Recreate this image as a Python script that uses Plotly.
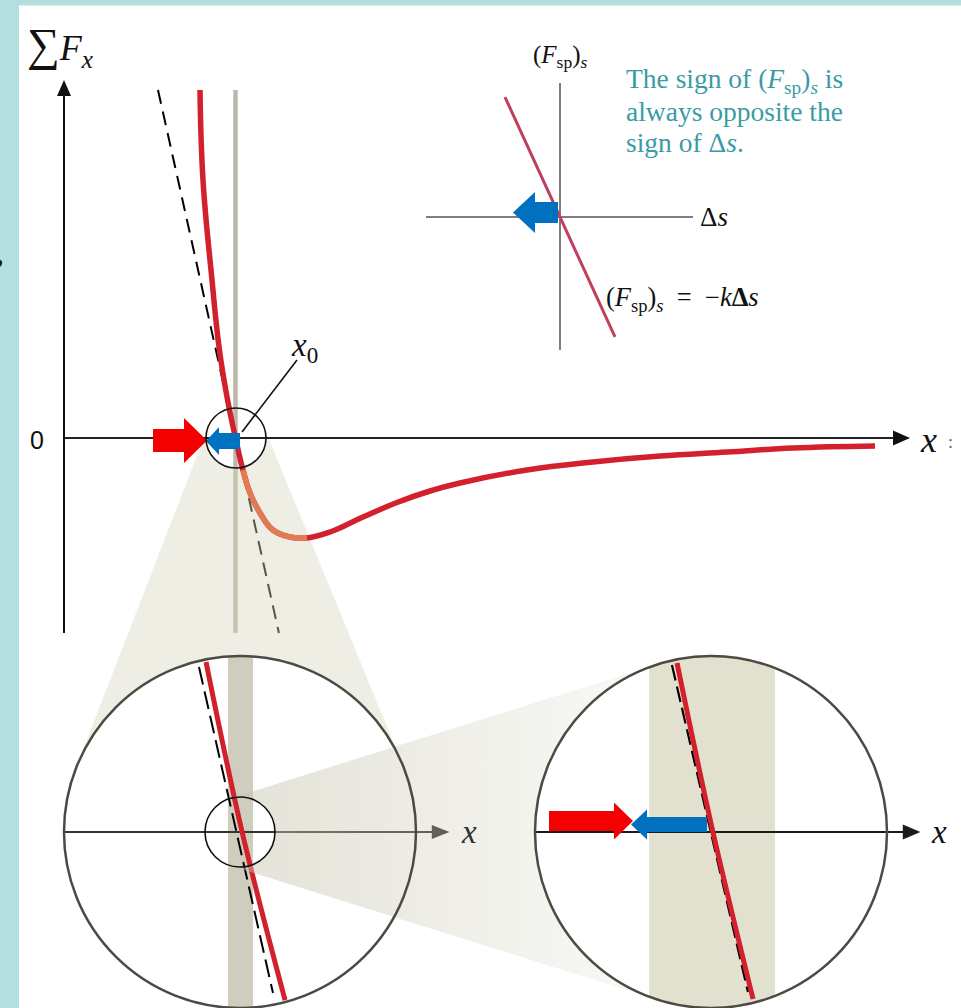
import numpy as np
import plotly.graph_objects as go

W, H = 961, 1008

# ---------------- data ----------------
# main graph: position x (arb. units) and net force F (arb. units)
curve_x = [1.586, 1.621, 1.726, 1.808, 1.901, 2.000, 2.087, 2.169, 2.286, 2.437, 2.636,
           2.834, 3.102, 3.487, 3.883, 4.268, 4.618, 5.399, 6.169, 6.950, 7.732, 8.501, 9.458]
curve_F = [3.48, 2.58, 1.58, 0.91, 0.41, 0.00, -0.32, -0.55, -0.75, -0.92, -0.99,
           -1.00, -0.94, -0.79, -0.645, -0.53, -0.45, -0.32, -0.24, -0.18, -0.14, -0.10, -0.08]
x_eq = 2.0                 # equilibrium position x0
tangent_k = 3.85           # slope of dashed tangent (linear approx.)
F_top, F_bottom = 3.48, -1.95
shaded_x_range = (2.08, 2.84)   # part of the curve under the zoom cone

# first zoom circle (local units, radius = 1)
zoomL_red_u = [-0.193, 0.012, 0.256]
zoomL_red_v = [0.966, 0.0, -0.955]
zoomL_tan_u = [-0.233, 0.1875]
zoomL_tan_v = [0.9375, -0.915]
zoomL_band = (-0.068, 0.074)

# second zoom circle
zoomR_red_u = [-0.193, 0.011, 0.239]
zoomR_red_v = [0.960, 0.0, -0.949]
zoomR_tan_u = [-0.222, 0.210]
zoomR_tan_v = [0.949, -0.909]
zoomR_band = (-0.352, 0.364)

# inset: (F_sp)_s = -k Δs
inset_ds = [-0.55, 0.55]
inset_k = 2.18

# ---------------- layout geometry (pixels) ----------------
MAIN_ORIGIN = (64, 438)          # pixel of x=0, F=0
MAIN_SX, MAIN_SY = 85.75, 100.0  # pixels per unit
SMALL1 = (236, 438, 30)
BIGL = (240, 832, 176)
SMALL2 = (240, 832, 35)
BIGR = (711, 832, 176)
INSET = (560, 217, 100)

SERIF = "Liberation Serif, Times New Roman, DejaVu Serif, serif"
RED = "#d2202c"
ORANGE = "#e07b54"
ARROW_RED = "#f50000"
ARROW_BLUE = "#0070c0"
CYAN = "#b4dfe1"

fig = go.Figure()

def main_ranges():
    ox, oy = MAIN_ORIGIN
    return [(0 - ox) / MAIN_SX, (W - ox) / MAIN_SX], [(oy - H) / MAIN_SY, oy / MAIN_SY]

def local_ranges(c):
    cx, cy, r = c
    return [(0 - cx) / r, (W - cx) / r], [(cy - H) / r, cy / r]

pix_ranges = ([0, W], [H, 0])

# axis k: (xrange, yrange)
axes = {
    1: main_ranges(),      # gray x0 line, dashed tangent
    2: pix_ranges,         # cone 1
    3: main_ranges(),      # red curve
    4: local_ranges(BIGL),  # left zoom contents
    5: pix_ranges,         # cone 2
    6: local_ranges(BIGR),  # right zoom contents
    7: local_ranges(INSET), # inset
    8: pix_ranges,         # arrows & axes
}

lay = {}
for k, (xr, yr) in axes.items():
    sx = "" if k == 1 else str(k)
    xa = dict(range=xr, visible=False, fixedrange=True, domain=[0, 1])
    ya = dict(range=yr, visible=False, fixedrange=True, domain=[0, 1])
    if k > 1:
        xa["overlaying"] = "x"
        ya["overlaying"] = "y"
        xa["anchor"] = "y" + sx
        ya["anchor"] = "x" + sx
    lay["xaxis" + sx] = xa
    lay["yaxis" + sx] = ya

def ax(k):
    return ("x", "y") if k == 1 else ("x%d" % k, "y%d" % k)

def add(k, **kw):
    xa, ya = ax(k)
    kw.setdefault("hoverinfo", "skip")
    kw.setdefault("showlegend", False)
    fig.add_trace(go.Scatter(xaxis=xa, yaxis=ya, **kw))

def cone_polygon(c1, r1, c2, r2, n=80):
    c1 = np.array(c1, float); c2 = np.array(c2, float)
    d = c2 - c1
    D = np.hypot(*d)
    psi = np.arctan2(d[1], d[0])
    th = np.arccos((r1 - r2) / D)
    a1 = np.linspace(th, -th, n) + psi
    a2 = np.linspace(-th, th - 2 * np.pi, n) + psi
    p1 = c1 + r1 * np.column_stack([np.cos(a1), np.sin(a1)])
    p2 = c2 + r2 * np.column_stack([np.cos(a2), np.sin(a2)])
    p = np.vstack([p1, p2, p1[:1]])
    return p[:, 0], p[:, 1]

def band_polygon(u0, u1, n=30):
    u = np.linspace(u0, u1, n)
    top = np.sqrt(1 - u ** 2)
    return np.concatenate([u, u[::-1], u[:1]]), np.concatenate([top, -top[::-1], top[:1]])

def arrow_poly(x_tail, x_tip, yc, bh, hh, hl):
    s = np.sign(x_tip - x_tail)
    xb = x_tip - s * hl
    xs = [x_tail, xb, xb, x_tip, xb, xb, x_tail, x_tail]
    ys = [yc - bh, yc - bh, yc - hh, yc, yc + hh, yc + bh, yc + bh, yc - bh]
    return xs, ys

def tri_head(tip, base_c, half):
    tx, ty = tip; bx, by = base_c
    dx, dy = tx - bx, ty - by
    L = np.hypot(dx, dy)
    nx, ny = -dy / L, dx / L
    return [tx, bx + nx * half, bx - nx * half, tx], [ty, by + ny * half, by - ny * half, ty]

# ---------- 1: main graph, equilibrium line and tangent ----------
add(1, x=[x_eq, x_eq], y=[F_bottom, F_top], mode="lines",
    line=dict(color="#bcb9aa", width=4.5))
add(1, x=[x_eq - F_top / tangent_k, x_eq - F_bottom / tangent_k], y=[F_top, F_bottom],
    mode="lines", line=dict(color="black", width=2, dash="14px,8px"))

# ---------- 2: cone 1 ----------
cx1, cy1 = cone_polygon(SMALL1[:2], SMALL1[2], BIGL[:2], BIGL[2])
add(2, x=cx1, y=cy1, mode="lines", fill="toself", line=dict(width=0),
    fillcolor="rgba(215,212,190,0.4)")

# ---------- 3: main curve ----------
add(3, x=curve_x, y=curve_F, mode="lines",
    line=dict(color=RED, width=5.5, shape="spline", smoothing=1.2))
sx_ = [x for x in curve_x if shaded_x_range[0] <= x <= shaded_x_range[1]]
sF_ = [F for x, F in zip(curve_x, curve_F) if shaded_x_range[0] <= x <= shaded_x_range[1]]
add(3, x=sx_, y=sF_, mode="lines",
    line=dict(color=ORANGE, width=5.5, shape="spline", smoothing=1.2))

# ---------- 4: left zoom ----------
bu, bv = band_polygon(*zoomL_band)
add(4, x=bu, y=bv, mode="lines", fill="toself", line=dict(width=0), fillcolor="#cfcdbd")
add(4, x=[-1, 1.12], y=[0, 0], mode="lines", line=dict(color="#333333", width=1.8))
hx, hy = tri_head((1.19, 0), (1.09, 0), 0.04)
add(4, x=hx, y=hy, mode="lines", fill="toself", line=dict(width=0), fillcolor="#333333")
add(4, x=zoomL_tan_u, y=zoomL_tan_v, mode="lines",
    line=dict(color="black", width=2, dash="18px,7px"))
add(4, x=zoomL_red_u, y=zoomL_red_v, mode="lines",
    line=dict(color=RED, width=5, shape="spline"))

# ---------- 5: cone 2 (gradient) ----------
cx2, cy2 = cone_polygon(SMALL2[:2], SMALL2[2], BIGR[:2], BIGR[2])
add(5, x=cx2, y=cy2, mode="lines", fill="toself", line=dict(width=0),
    fillgradient=dict(type="horizontal",
                      colorscale=[[0, "rgba(200,197,175,0.5)"], [1, "rgba(200,197,175,0.1)"]]))

# ---------- 6: right zoom ----------
bu, bv = band_polygon(*zoomR_band)
add(6, x=bu, y=bv, mode="lines", fill="toself", line=dict(width=0), fillcolor="#e2e0cf")
add(6, x=[-1, 1.12], y=[0, 0], mode="lines", line=dict(color="#1a1a1a", width=1.8))
hx, hy = tri_head((1.19, 0), (1.09, 0), 0.042)
add(6, x=hx, y=hy, mode="lines", fill="toself", line=dict(width=0), fillcolor="#1a1a1a")
add(6, x=zoomR_tan_u, y=zoomR_tan_v, mode="lines",
    line=dict(color="black", width=2.2, dash="16px,6px"))
add(6, x=zoomR_red_u, y=zoomR_red_v, mode="lines",
    line=dict(color=RED, width=5, shape="spline"))

# ---------- 7: inset ----------
add(7, x=[0, 0], y=[-1.33, 1.34], mode="lines", line=dict(color="#555555", width=1.5))
add(7, x=[-1.34, 1.33], y=[0, 0], mode="lines", line=dict(color="#555555", width=1.5))
add(7, x=inset_ds, y=[-inset_k * d for d in inset_ds], mode="lines",
    line=dict(color="#bf3f5f", width=3))

# ---------- 8: main axes and arrows (pixels) ----------
ox, oy = MAIN_ORIGIN
add(8, x=[ox, ox], y=[633, 92], mode="lines", line=dict(color="#111111", width=2))
hx, hy = tri_head((ox, 80), (ox, 96), 7)
add(8, x=hx, y=hy, mode="lines", fill="toself", line=dict(width=0), fillcolor="#111111")
add(8, x=[ox, 896], y=[oy, oy], mode="lines", line=dict(color="#222222", width=2))
hx, hy = tri_head((910, oy), (893, oy), 7.5)
add(8, x=hx, y=hy, mode="lines", fill="toself", line=dict(width=0), fillcolor="#111111")

arrows = [
    (153, 207, 440.5, 11.5, 22.5, 23, ARROW_RED),
    (240, 206, 441, 8, 14, 13, ARROW_BLUE),
    (558, 513, 212.5, 10.5, 20.5, 22, ARROW_BLUE),
    (549, 633, 821, 10, 18.5, 19, ARROW_RED),
    (707, 631, 824.5, 7.5, 15, 16, ARROW_BLUE),
]
for xt, xp, yc, bh, hh, hl, col in arrows:
    axs, ays = arrow_poly(xt, xp, yc, bh, hh, hl)
    add(8, x=axs, y=ays, mode="lines", fill="toself", line=dict(width=0), fillcolor=col)

# ---------- shapes ----------
shapes = [
    dict(type="rect", xref="paper", yref="paper", x0=19 / W, x1=1, y0=0, y1=1 - 5.5 / H,
         fillcolor="white", line=dict(width=0), layer="below"),
]
def circ(c, color, width):
    cx, cy, r = c
    return dict(type="circle", xref="x2", yref="y2", x0=cx - r, x1=cx + r, y0=cy - r, y1=cy + r,
                line=dict(color=color, width=width), fillcolor="rgba(0,0,0,0)", layer="above")
shapes += [circ(SMALL1, "#111111", 1.6), circ(BIGL, "#4b4b43", 2.5),
           circ(SMALL2, "#111111", 1.6), circ(BIGR, "#4b4b43", 2.5)]
shapes.append(dict(type="line", xref="x2", yref="y2", x0=242, y0=432, x1=297, y1=360,
                   line=dict(color="#111111", width=1.6), layer="above"))

# ---------- text ----------
def txt(x, y, text, size, color="#111111", family=SERIF, xanchor="left", yanchor="middle"):
    return dict(x=x, y=y, xref="x2", yref="y2", text=text, showarrow=False,
                font=dict(family=family, size=size, color=color),
                xanchor=xanchor, yanchor=yanchor)

TEAL = "#3a9ba6"
NB = "\u00a0"
annotations = [
    txt(25, 46, "<span style='font-size:46px'>∑</span><i>F</i><sub><i>x</i></sub>", 36),
    txt(0, 252, ",", 32, xanchor="center"),
    txt(37, 440, "0", 25, family="Liberation Sans, Arial, sans-serif", xanchor="center"),
    txt(918, 440, "<i>x</i>", 36),
    txt(946, 442, ":", 18, color="#666666"),
    txt(289, 347, "<i>x</i><sub>0</sub>", 33),
    txt(459, 832, "<i>x</i>", 33, color="#333333"),
    txt(929, 832, "<i>x</i>", 33),
    txt(560, 56, "(<i>F</i><sub>sp</sub>)<sub><i>s</i></sub>", 25, xanchor="center"),
    txt(698, 217, "Δ<i>s</i>", 27),
    txt(604, 299, "(<i>F</i><sub>sp</sub>)<sub><i>s</i></sub>" + NB + NB + "=" + NB + NB
        + "−<i>k</i><b>Δ</b><i>s</i>", 26.5),
    txt(624, 80, "The sign of (<i>F</i><sub>sp</sub>)<sub><i>s</i></sub> is", 27.5, color=TEAL),
    txt(624, 111, "always opposite the", 27.5, color=TEAL),
    txt(624, 142, "sign of Δ<i>s</i>.", 27.5, color=TEAL),
]

fig.update_layout(
    width=W, height=H, margin=dict(l=0, r=0, t=0, b=0),
    paper_bgcolor=CYAN, plot_bgcolor="rgba(0,0,0,0)",
    showlegend=False, shapes=shapes, annotations=annotations, **lay,
)

post = ("document.body.style.margin='0';document.body.style.padding='0';"
        "document.body.style.background='%s';"
        "document.documentElement.style.overflow='hidden';" % CYAN)
fig.write_html("out.html", config={"displayModeBar": False}, post_script=post)
